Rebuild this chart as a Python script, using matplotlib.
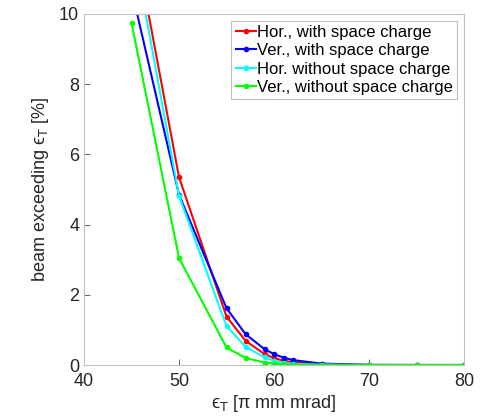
import numpy as np
import matplotlib.pyplot as plt

plt.rcParams['font.family'] = ['Liberation Sans', 'DejaVu Sans']

x = [45, 50, 55, 57, 59, 60, 61, 62, 65, 70, 75, 80]
hor_sc = [12.6, 5.35, 1.38, 0.69, 0.31, 0.20, 0.12, 0.08, 0.02, 0.0, 0.0, 0.0]
ver_sc = [10.7, 4.85, 1.62, 0.88, 0.45, 0.31, 0.21, 0.14, 0.04, 0.005, 0.0, 0.0]
hor_nosc = [12.2, 4.82, 1.11, 0.52, 0.22, 0.12, 0.06, 0.03, 0.01, 0.0, 0.0, 0.0]
ver_nosc = [9.75, 3.05, 0.5, 0.2, 0.07, 0.04, 0.02, 0.01, 0.005, 0.0, 0.0, 0.0]

fig = plt.figure(figsize=(4.87, 4.2), dpi=100)
ax = fig.add_axes([84/487, 55/420, 380/487, 351/420])

ax.plot(x, hor_sc, '.-', color='#ff0000', lw=1.5, ms=6, label='Hor., with space charge')
ax.plot(x, ver_sc, '.-', color='#0000ff', lw=1.5, ms=6, label='Ver., with space charge')
ax.plot(x, hor_nosc, '.-', color='#00ffff', lw=1.5, ms=6, label='Hor. without space charge')
ax.plot(x, ver_nosc, '.-', color='#00ff00', lw=1.5, ms=6, label='Ver., without space charge')

ax.set_xlim(40, 80)
ax.set_ylim(0, 10)
ax.set_xticks([40, 50, 60, 70, 80])
ax.set_yticks([0, 2, 4, 6, 8, 10])
ax.tick_params(direction='in', labelsize=13, colors='#262626', length=4, width=0.5)
ax.tick_params(axis='x', pad=6)
for s in ax.spines.values():
    s.set_color('#bfbfbf')
    s.set_linewidth(0.8)

ax.set_xlabel('ϵ$_{\\rm T}$ [π mm mrad]', fontsize=13, color='#262626', labelpad=2)
ax.set_ylabel('beam exceeding ϵ$_{\\rm T}$ [%]', fontsize=13, color='#262626', labelpad=6)

leg = ax.legend(loc='upper right', fontsize=12, handlelength=1.2, handletextpad=0.1,
                borderpad=0.25, labelspacing=0.2, fancybox=False, framealpha=1,
                borderaxespad=0.4)
leg.get_frame().set_edgecolor('#bfbfbf')
leg.get_frame().set_linewidth(0.8)

fig.savefig('out.png', dpi=100)
